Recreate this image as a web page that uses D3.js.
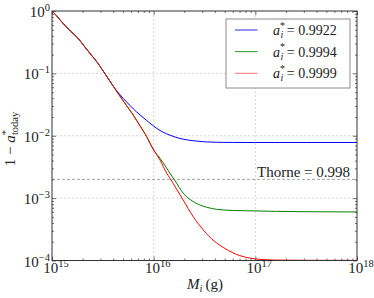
<!DOCTYPE html>
<html>
<head>
<meta charset="utf-8">
<style>
    body { margin: 0; background: #fff; }
    svg { display: block; }
    text { font-family: "Liberation Serif", "DejaVu Serif", serif; fill: #222; }
    .grid line { stroke: #c4c4c4; stroke-width: 0.7; stroke-dasharray: 2,2; }
    .axis path { stroke: none; }
    .axis line { stroke: #333; stroke-width: 0.7; }
</style>
</head>
<body>
<script src="https://d3js.org/d3.v7.min.js"></script>
<script>
// log10 of the initial mass M_i (g)
var massExp = [15.0, 15.03, 15.108, 15.18, 15.256, 15.32, 15.386, 15.452, 15.518, 15.57,
    15.616, 15.66, 15.70, 15.735, 15.8, 15.865, 15.931, 15.964, 16.0, 16.062,
    16.128, 16.16, 16.21, 16.29, 16.39, 16.488, 16.52, 16.62, 16.684, 16.783,
    16.91, 17.0, 17.2, 17.5, 18.0];

// log10 of 1 - a*_today for each initial spin
var blueExp = [0, -0.05, -0.197, -0.32, -0.437, -0.57, -0.705, -0.838, -0.998, -1.125,
    -1.235, -1.325, -1.40, -1.46, -1.57, -1.665, -1.755, -1.80, -1.845, -1.915,
    -1.97, -1.99, -2.02, -2.055, -2.08, -2.095, -2.099, -2.104, -2.106, -2.107,
    -2.108, -2.108, -2.108, -2.108, -2.108];
var greenExp = [0, -0.05, -0.197, -0.32, -0.437, -0.57, -0.705, -0.838, -0.998, -1.125,
    -1.239, -1.345, -1.44, -1.52, -1.67, -1.84, -2.014, -2.12, -2.228, -2.36,
    -2.52, -2.60, -2.72, -2.92, -3.056, -3.13, -3.146, -3.18, -3.19, -3.198,
    -3.203, -3.205, -3.212, -3.218, -3.222];
var redExp = [0, -0.05, -0.197, -0.32, -0.437, -0.57, -0.705, -0.838, -0.998, -1.125,
    -1.239, -1.345, -1.44, -1.52, -1.67, -1.84, -2.014, -2.12, -2.228, -2.388,
    -2.60, -2.68, -2.815, -3.03, -3.30, -3.51, -3.57, -3.72, -3.79, -3.88,
    -3.95, -3.975, -3.993, -3.997, -3.998];

var seriesSpin = ["0.9922", "0.9994", "0.9999"];
var seriesColor = ["#0000ff", "#008000", "#ff0000"];
var seriesExp = [blueExp, greenExp, redExp];

var thorneValue = 0.002;   // 1 - 0.998
var xTickExp = [15, 16, 17, 18];
var yTickExp = [0, -1, -2, -3, -4];

var width = 374, height = 298;
var margin = {top: 11, left: 52, right: 17, bottom: 37.5};

var svg = d3.select("body").append("svg")
    .attr("width", width)
    .attr("height", height);

var x = d3.scaleLog().domain([1e15, 1e18]).range([margin.left, width - margin.right]);
var y = d3.scaleLog().domain([1e-4, 1]).range([height - margin.bottom, margin.top]);

var x0 = x.range()[0], x1 = x.range()[1], yb = y.range()[0], yt = y.range()[1];

// minor tick values, 2..9 in each decade
function minors(lo, hi) {
    var out = [];
    for (var e = lo; e < hi; e++)
        for (var k = 2; k <= 9; k++) out.push(k * Math.pow(10, e));
    return out;
}
var xMajor = xTickExp.map(function(e) { return Math.pow(10, e); });
var yMajor = yTickExp.map(function(e) { return Math.pow(10, e); });

// grid
svg.append("g").attr("class", "grid")
    .selectAll("line").data(xMajor.slice(1, -1)).enter().append("line")
    .attr("x1", function(d) { return x(d); }).attr("x2", function(d) { return x(d); })
    .attr("y1", yt).attr("y2", yb);
svg.append("g").attr("class", "grid")
    .selectAll("line").data(yMajor.slice(1, -1)).enter().append("line")
    .attr("y1", function(d) { return y(d); }).attr("y2", function(d) { return y(d); })
    .attr("x1", x0).attr("x2", x1);

// Thorne limit
svg.append("line")
    .attr("x1", x0).attr("x2", x1)
    .attr("y1", y(thorneValue)).attr("y2", y(thorneValue))
    .attr("stroke", "#999").attr("stroke-width", 0.9)
    .attr("stroke-dasharray", "3,2");
svg.append("text")
    .attr("x", 350).attr("y", y(thorneValue) - 2.5)
    .attr("text-anchor", "end")
    .attr("font-size", 15)
    .text("Thorne = 0.998");

// curves
var line = d3.line()
    .x(function(d) { return x(Math.pow(10, d[0])); })
    .y(function(d) { return y(Math.pow(10, d[1])); })
    .curve(d3.curveMonotoneX);

seriesExp.forEach(function(vals, i) {
    svg.append("path")
        .datum(massExp.map(function(m, j) { return [m, vals[j]]; }))
        .attr("fill", "none")
        .attr("stroke", seriesColor[i])
        .attr("stroke-width", 1)
        .attr("d", line);
});

// ticks on all four sides, pointing inward
function addTicks(axisFn, scale, vals, size, tx) {
    svg.append("g").attr("class", "axis")
        .attr("transform", tx)
        .call(axisFn(scale).tickValues(vals).tickSize(size).tickFormat(""));
}
addTicks(d3.axisBottom, x, xMajor, -4, "translate(0," + yb + ")");
addTicks(d3.axisBottom, x, minors(15, 18), -2, "translate(0," + yb + ")");
addTicks(d3.axisTop, x, xMajor, -4, "translate(0," + yt + ")");
addTicks(d3.axisTop, x, minors(15, 18), -2, "translate(0," + yt + ")");
addTicks(d3.axisLeft, y, yMajor, -4, "translate(" + x0 + ",0)");
addTicks(d3.axisLeft, y, minors(-4, 0), -2, "translate(" + x0 + ",0)");
addTicks(d3.axisRight, y, yMajor, -4, "translate(" + x1 + ",0)");
addTicks(d3.axisRight, y, minors(-4, 0), -2, "translate(" + x1 + ",0)");

// frame
svg.append("rect")
    .attr("x", x0).attr("y", yt)
    .attr("width", x1 - x0).attr("height", yb - yt)
    .attr("fill", "none").attr("stroke", "#333").attr("stroke-width", 1);

// tick labels
function powLabel(sel, e) {
    sel.append("tspan").attr("font-size", 15).text("10");
    sel.append("tspan").attr("font-size", 10.5).attr("dy", -6)
        .text(e < 0 ? "\u2212" + (-e) : e);
}
xTickExp.forEach(function(e) {
    var t = svg.append("text")
        .attr("x", x(Math.pow(10, e)) + 4).attr("y", yb + 12.5)
        .attr("text-anchor", "middle");
    powLabel(t, e);
});
yTickExp.forEach(function(e) {
    var t = svg.append("text")
        .attr("x", x0 - 2).attr("y", y(Math.pow(10, e)) + 6)
        .attr("text-anchor", "end");
    powLabel(t, e);
});

// axis titles
var xl = svg.append("text")
    .attr("x", 205).attr("y", 289)
    .attr("text-anchor", "middle").attr("font-size", 15);
xl.append("tspan").attr("font-style", "italic").text("M");
xl.append("tspan").attr("font-style", "italic").attr("font-size", 10.5).attr("dy", 3).text("i");
xl.append("tspan").attr("dy", -3).text("\u2009(g)");

var yl = svg.append("text")
    .attr("transform", "translate(15," + 139 + ") rotate(-90)")
    .attr("text-anchor", "middle").attr("font-size", 15);
yl.append("tspan").text("1 \u2212 ");
yl.append("tspan").attr("font-style", "italic").text("a");
yl.append("tspan").attr("font-size", 10.5).attr("dy", -6).text("*");
yl.append("tspan").attr("font-size", 10.5).attr("dx", -5).attr("dy", 9).text("today");

// legend
var lg = svg.append("g");
lg.append("rect")
    .attr("x", 226).attr("y", 19).attr("width", 124).attr("height", 69)
    .attr("fill", "#fff").attr("stroke", "#8c8c8c").attr("stroke-width", 1);
seriesSpin.forEach(function(s, i) {
    var cy = 30 + i * 21.65;
    lg.append("line")
        .attr("x1", 235).attr("x2", 257.5)
        .attr("y1", cy).attr("y2", cy)
        .attr("stroke", seriesColor[i])
        .attr("stroke-opacity", i === 2 ? 0.55 : 0.85)
        .attr("stroke-width", 1);
    var t = lg.append("text").attr("x", 273).attr("y", cy + 5).attr("font-size", 14);
    t.append("tspan").attr("font-style", "italic").text("a");
    t.append("tspan").attr("font-size", 10).attr("dy", -6.5).text("*");
    t.append("tspan").attr("font-size", 10).attr("font-style", "italic")
        .attr("dx", -4.5).attr("dy", 9.5).text("i");
    t.append("tspan").attr("dy", -3).text(" = " + s);
});
</script>
</body>
</html>
